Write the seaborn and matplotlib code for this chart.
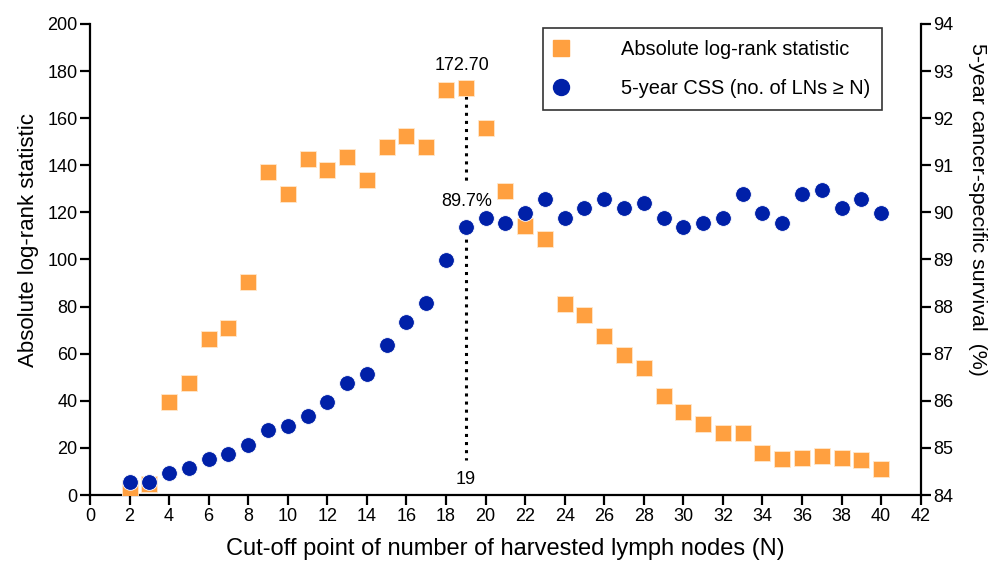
import numpy as np
import pandas as pd
import seaborn as sns
import matplotlib.pyplot as plt
from matplotlib.lines import Line2D

# cut-off points N
cutoffs = list(range(2, 41))

# absolute log-rank statistic (left axis)
logrank = [3, 4.5, 39.5, 47.7, 66.4, 70.8, 90.4, 137, 127.8, 142.8,
           137.9, 143.7, 133.8, 147.8, 152.3, 147.9, 172, 172.7, 156, 129,
           114.2, 108.8, 81.2, 76.6, 67.5, 59.6, 53.8, 42.2, 35.1, 30.3,
           26.5, 26.2, 18.0, 15.1, 15.7, 16.7, 15.6, 14.7, 11.0]

# 5-year CSS (right axis)
css = [84.27, 84.27, 84.47, 84.57, 84.76, 84.87, 85.06, 85.37, 85.46, 85.67,
       85.97, 86.37, 86.57, 87.18, 87.68, 88.08, 88.99, 89.68, 89.89, 89.78,
       89.99, 90.28, 89.89, 90.09, 90.28, 90.09, 90.19, 89.89, 89.68, 89.78,
       89.89, 90.40, 89.99, 89.78, 90.40, 90.48, 90.09, 90.28, 89.99]

best_n = 19
best_stat = 172.70
best_css = 89.7

orange = "#FFA040"
blue = "#0020A8"

df = pd.DataFrame({'N': cutoffs, 'logrank': logrank, 'css': css})

sns.set_style("ticks")
plt.rcParams['font.family'] = ['Liberation Sans', 'DejaVu Sans']
plt.rcParams['text.color'] = 'black'
plt.rcParams['axes.labelcolor'] = 'black'

fig = plt.figure(figsize=(10.02, 5.69), dpi=100)
ax = fig.add_axes([0.0898, 0.130, 0.829, 0.828])
ax2 = ax.twinx()

sns.scatterplot(data=df, x='N', y='logrank', ax=ax, marker='s', s=128,
                color=orange, edgecolor='#FFE8CC', linewidth=0.6, zorder=3)
sns.scatterplot(data=df, x='N', y='css', ax=ax2, marker='o', s=128,
                color=blue, edgecolor='white', linewidth=0.6, zorder=3)

# dotted guide at the optimal cut-off
ax.plot([best_n, best_n], [best_stat, 132], color='black', linestyle=':',
        linewidth=2.2, zorder=2)
ax.plot([best_n, best_n], [112, 15], color='black', linestyle=':',
        linewidth=2.2, zorder=2)
ax.text(best_n - 0.2, 182.5, f"{best_stat:.2f}", ha='center', va='center', fontsize=13)
ax.text(best_n + 0.05, 124.5, f"{best_css}%", ha='center', va='center', fontsize=13)
ax.text(best_n, 6.4, str(best_n), ha='center', va='center', fontsize=13)

ax.set_xlim(0, 42)
ax.set_ylim(0, 200)
ax2.set_ylim(84, 94)
ax.set_xticks(np.arange(0, 43, 2))
ax.set_yticks(np.arange(0, 201, 20))
ax2.set_yticks(np.arange(84, 95, 1))

ax.set_xlabel('Cut-off point of number of harvested lymph nodes (N)', fontsize=17, labelpad=10)
ax.set_ylabel('Absolute log-rank statistic', fontsize=16, labelpad=6, y=0.541)
ax2.set_ylabel('5-year cancer-specific survival  (%)', fontsize=15.4, rotation=270,
               labelpad=24, y=0.607)

for a in (ax, ax2):
    a.spines['top'].set_visible(False)
    for side in ('left', 'right', 'bottom'):
        a.spines[side].set_linewidth(1.6)
        a.spines[side].set_color('black')
    a.tick_params(axis='both', direction='out', length=7, width=1.6, pad=2,
                  labelsize=13, colors='black')
ax.spines['right'].set_visible(False)
ax2.spines['left'].set_visible(False)
ax2.spines['bottom'].set_visible(False)

handles = [
    Line2D([], [], marker='s', linestyle='none', markersize=11.5, color=orange),
    Line2D([], [], marker='o', linestyle='none', markersize=11.5, color=blue),
]
labels = ['Absolute log-rank statistic', '5-year CSS (no. of LNs \u2265 N)']
if ax.get_legend():
    ax.get_legend().remove()
if ax2.get_legend():
    ax2.get_legend().remove()
leg = ax2.legend(handles, labels, loc='upper right', bbox_to_anchor=(0.954, 0.9915),
                 fontsize=14.4, frameon=True, fancybox=False, edgecolor='black',
                 handlelength=0.55, handletextpad=2.75, borderpad=0.6,
                 labelspacing=1.0, borderaxespad=0)
leg.get_frame().set_linewidth(1.2)

fig.savefig('out.png', dpi=100)
